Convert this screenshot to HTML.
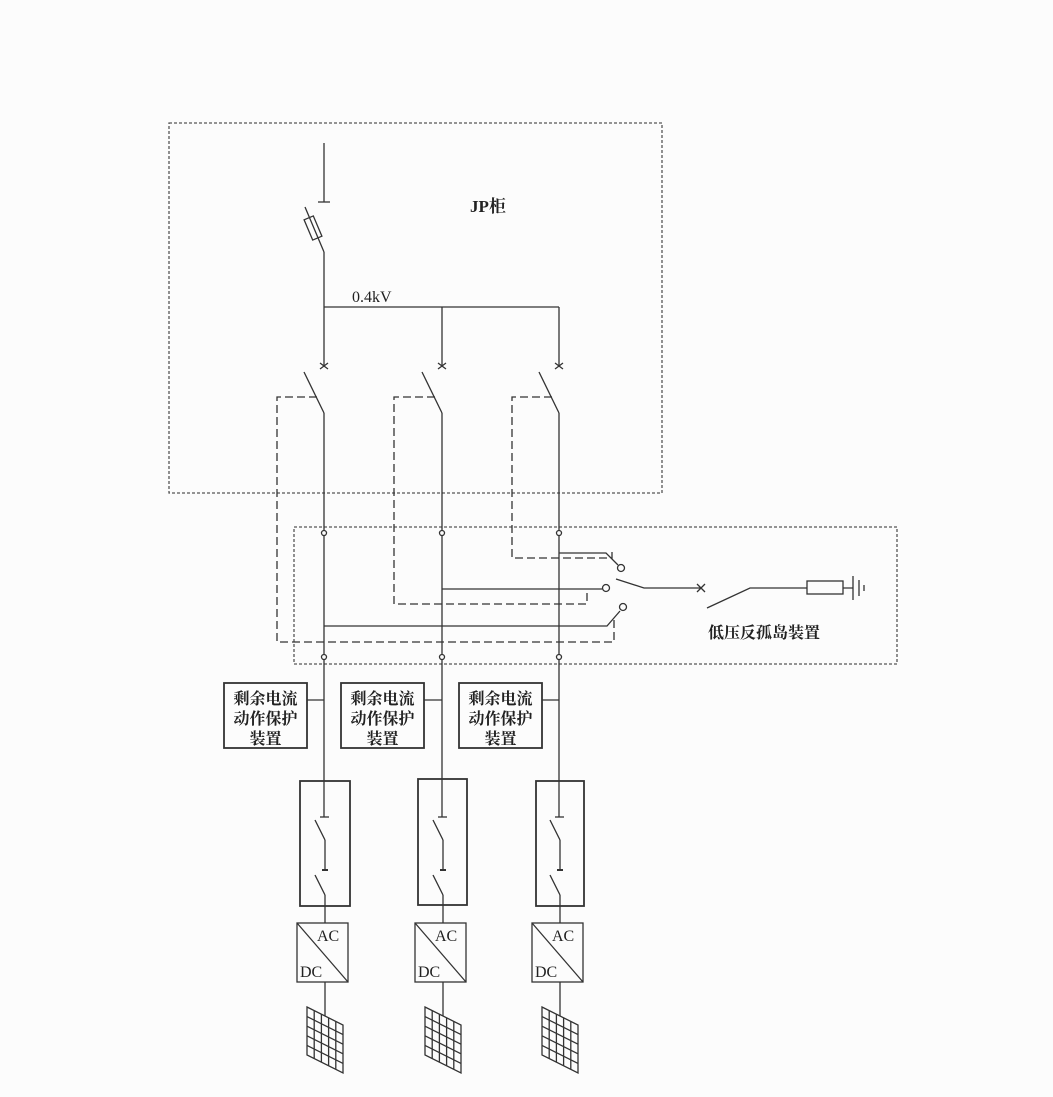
<!DOCTYPE html>
<html><head><meta charset="utf-8"><style>
html,body{margin:0;padding:0;background:#fcfcfc;}
svg{display:block}
text{font-family:"Liberation Serif","Noto Serif CJK SC",serif;fill:#222}
.cj{font-family:"Liberation Serif","Noto Serif CJK SC",serif;font-weight:bold}
</style></head><body>
<svg width="1053" height="1097" viewBox="0 0 1053 1097" xmlns="http://www.w3.org/2000/svg">
<g fill="none" stroke="#333" stroke-width="1.3">
<!-- boxes -->
<rect x="169" y="123" width="493" height="370" stroke="#555" stroke-dasharray="3,2"/>
<rect x="294" y="527" width="603" height="137" stroke="#555" stroke-dasharray="3,2"/>
<!-- main feeder -->
<line x1="324" y1="143" x2="324" y2="202"/>
<line x1="318" y1="202" x2="330" y2="202"/>
<line x1="305" y1="207" x2="324" y2="252"/>
<rect x="308" y="217" width="10" height="22" transform="rotate(-23 313 228)"/>
<line x1="324" y1="252" x2="324" y2="366"/>
<line x1="324" y1="307" x2="559" y2="307"/>
<line x1="442" y1="307" x2="442" y2="366"/>
<line x1="559" y1="307" x2="559" y2="366"/>
<!-- breakers -->
<g id="brk">
<path d="M320 363 L328 369 M320 369 L328 363"/>
<line x1="304" y1="372" x2="324" y2="413"/>
</g>
<use href="#brk" x="118"/>
<use href="#brk" x="235"/>
<line x1="324" y1="413" x2="324" y2="817"/>
<line x1="442" y1="413" x2="442" y2="817"/>
<line x1="559" y1="413" x2="559" y2="817"/>
<!-- control dashed lines -->
<g stroke-dasharray="8,4">
<path d="M317 397 H277 V642 H614 V617"/>
<path d="M435 397 H394 V604 H587 V589"/>
<path d="M552 397 H512 V558 H612 V552"/>
</g>
<!-- terminal circles -->
<g fill="#fcfcfc">
<circle cx="324" cy="533" r="2.5"/><circle cx="442" cy="533" r="2.5"/><circle cx="559" cy="533" r="2.5"/>
<circle cx="324" cy="657" r="2.5"/><circle cx="442" cy="657" r="2.5"/><circle cx="559" cy="657" r="2.5"/>
</g>
<!-- selector switch -->
<path d="M559 553 H606 L618 565"/>
<circle cx="621" cy="568" r="3.5"/>
<path d="M442 589 H602"/>
<circle cx="606" cy="588" r="3.5"/>
<path d="M324 626 H607 L620 611"/>
<circle cx="623" cy="607" r="3.5"/>
<path d="M616 579 L644 588 H701"/>
<path d="M697 584 L705 592 M697 592 L705 584"/>
<path d="M707 608 L750 588 H807"/>
<rect x="807" y="581" width="36" height="13"/>
<path d="M843 588 H853 M853 576 V600 M859 580 V596 M864 585 V591"/>
<!-- RCD connectors -->
<line x1="307" y1="700" x2="324" y2="700"/>
<line x1="424" y1="700" x2="442" y2="700"/>
<line x1="542" y1="700" x2="559" y2="700"/>
<g stroke-width="1.8">
<rect x="224" y="683" width="83" height="65"/>
<rect x="341" y="683" width="83" height="65"/>
<rect x="459" y="683" width="83" height="65"/>
</g>
<!-- enclosures -->
<g stroke-width="1.8">
<rect x="300" y="781" width="50" height="125"/>
<rect x="418" y="779" width="49" height="126"/>
<rect x="536" y="781" width="48" height="125"/>
</g>
<g id="inner">
<line x1="320" y1="817" x2="329" y2="817"/>
<line x1="315" y1="820" x2="325" y2="840"/>
<line x1="325" y1="840" x2="325" y2="870"/>
<path d="M322 870 H328" stroke-width="2"/>
<line x1="315" y1="875" x2="325" y2="895"/>
<line x1="325" y1="895" x2="325" y2="923"/>
<rect x="297" y="923" width="51" height="59"/>
<line x1="297" y1="923" x2="348" y2="982"/>
<line x1="325" y1="982" x2="325" y2="1016"/>
<path d="M307 1007 L343 1025 L343 1073 L307 1055 Z"/>
<path d="M307 1016.6 L343 1034.6 M307 1026.2 L343 1044.2 M307 1035.8 L343 1053.8 M307 1045.4 L343 1063.4"/>
<path d="M314.2 1010.6 V1058.6 M321.4 1014.2 V1062.2 M328.6 1017.8 V1065.8 M335.8 1021.4 V1069.4"/>
</g>
<use href="#inner" x="118"/>
<use href="#inner" x="235"/>
</g>
<!-- text -->
<text x="470" y="212" font-size="17" class="cj">JP柜</text>
<text x="352" y="302" font-size="16">0.4kV</text>
<text x="764" y="638" font-size="16" class="cj" text-anchor="middle">低压反孤岛装置</text>
<g class="cj" font-size="16" text-anchor="middle">
<text x="265.5" y="704">剩余电流</text><text x="265.5" y="724">动作保护</text><text x="265.5" y="744">装置</text>
<text x="382.5" y="704">剩余电流</text><text x="382.5" y="724">动作保护</text><text x="382.5" y="744">装置</text>
<text x="500.5" y="704">剩余电流</text><text x="500.5" y="724">动作保护</text><text x="500.5" y="744">装置</text>
</g>
<g font-size="16">
<text x="317" y="941">AC</text><text x="300" y="977">DC</text>
<text x="435" y="941">AC</text><text x="418" y="977">DC</text>
<text x="552" y="941">AC</text><text x="535" y="977">DC</text>
</g>
</svg>
</body></html>
